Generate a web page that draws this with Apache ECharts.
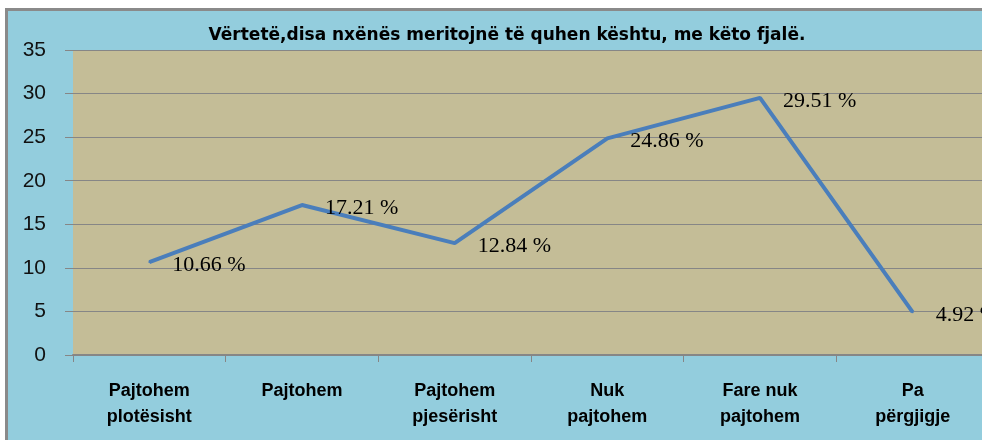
<!DOCTYPE html>
<html>
<head>
<meta charset="utf-8">
<script src="https://cdn.jsdelivr.net/npm/echarts@6/dist/echarts.min.js"></script>
<style>
    html, body { margin: 0; padding: 0; background: #fff; width: 982px; height: 440px; overflow: hidden; }
    body { position: relative; }
    #wrap { position: absolute; left: 5px; top: 8px; width: 1010px; height: 460px; border-left: 3px solid #8a8a8a; border-top: 3px solid #8a8a8a; background: #93cddd; overflow: hidden; }
    #main { position: absolute; left: 0; top: 0; width: 1000px; height: 440px; }
</style>
</head>
<body>
<div id="wrap"><div id="main"></div></div>
<script>
// kategorite dhe perqindjet
var categories = ['Pajtohem\nplotësisht', 'Pajtohem', 'Pajtohem\npjesërisht', 'Nuk\npajtohem', 'Fare nuk\npajtohem', 'Pa\npërgjigje'];
var values = [10.66, 17.21, 12.84, 24.86, 29.51, 4.92];
var yTicks = [0, 5, 10, 15, 20, 25, 30, 35];
var titleText = 'Vërtetë,disa nxënës meritojnë të quhen kështu, me këto fjalë.';

var myChart = echarts.init(document.getElementById('main'));
var option = {
    animation: false,
    title: {
        text: titleText,
        left: 494,
        top: 11,
        textAlign: 'center',
        textStyle: { fontFamily: 'DejaVu Sans', fontWeight: 'bold', fontSize: 17, color: '#000' }
    },
    grid: {
        left: 65, top: 39, right: 19, bottom: 96,
        show: true, backgroundColor: '#c4bd97', borderWidth: 0
    },
    xAxis: {
        type: 'category',
        data: categories,
        boundaryGap: true,
        axisLine: { lineStyle: { color: '#868686', width: 2 } },
        axisTick: { show: true, length: 7, lineStyle: { color: '#868686', width: 1 } },
        axisLabel: {
            margin: 23, interval: 0, color: '#000',
            fontFamily: 'Liberation Sans', fontWeight: 'bold', fontSize: 18, lineHeight: 26
        }
    },
    yAxis: {
        type: 'value',
        min: yTicks[0], max: yTicks[yTicks.length - 1], interval: 5,
        axisLine: { show: false },
        axisTick: { show: true, length: 8, lineStyle: { color: '#868686' } },
        splitLine: { lineStyle: { color: '#868686', width: 1 } },
        axisLabel: { margin: 27, color: '#111', fontFamily: 'Liberation Sans', fontSize: 21 }
    },
    series: [{
        type: 'line',
        data: values,
        symbol: 'circle',
        symbolSize: 2,
        itemStyle: { color: '#4a7ebb' },
        lineStyle: { color: '#4a7ebb', width: 4 },
        label: {
            show: true, position: 'right', distance: 22, offset: [0, 3],
            color: '#000', fontFamily: 'Liberation Serif', fontSize: 22,
            formatter: function (p) { return p.value.toFixed(2) + ' %'; }
        }
    }]
};
myChart.setOption(option);
</script>
</body>
</html>
